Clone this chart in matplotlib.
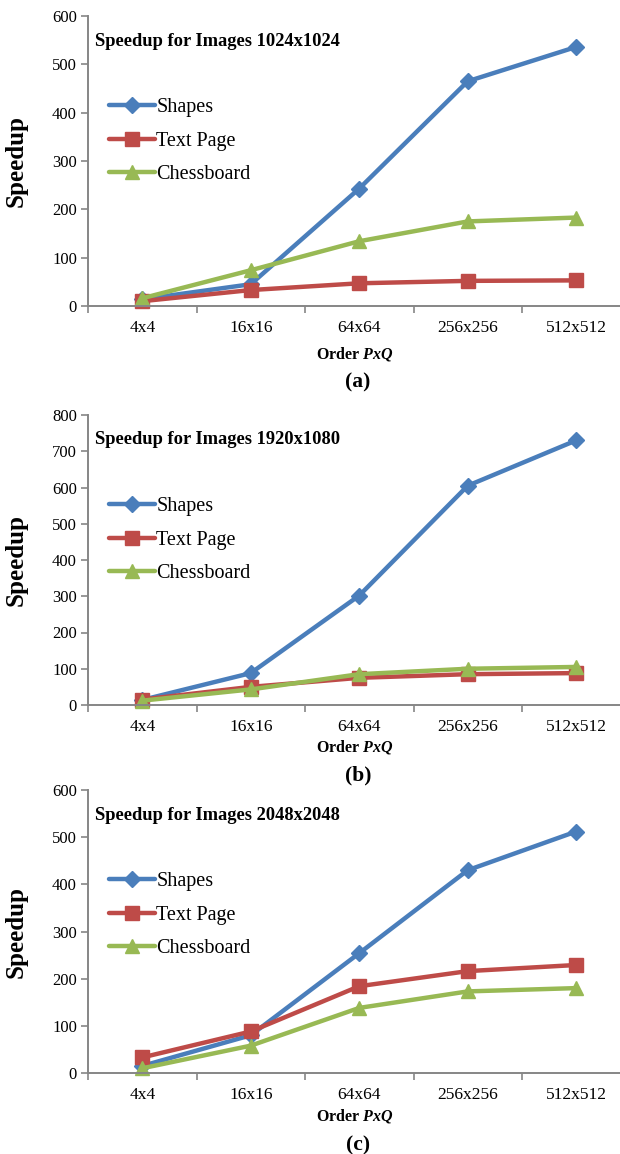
import matplotlib
matplotlib.use("Agg")
import matplotlib.pyplot as plt

plt.rcParams['font.family'] = ['Liberation Serif', 'DejaVu Serif']
plt.rcParams['mathtext.fontset'] = 'custom'
plt.rcParams['mathtext.it'] = 'Liberation Serif:italic:bold'
plt.rcParams['mathtext.rm'] = 'Liberation Serif:bold'

orders = ['4x4', '16x16', '64x64', '256x256', '512x512']
series_names = ['Shapes', 'Text Page', 'Chessboard']

# panel (a) 1024x1024
shapes_a = [14, 45, 243, 465, 536]
text_a = [10, 33, 47, 52, 53]
chess_a = [16, 74, 134, 175, 183]

# panel (b) 1920x1080
shapes_b = [14, 88, 302, 605, 730]
text_b = [15, 50, 75, 85, 88]
chess_b = [12, 43, 85, 100, 105]

# panel (c) 2048x2048
shapes_c = [15, 80, 254, 430, 512]
text_c = [33, 88, 184, 216, 229]
chess_c = [10, 58, 138, 173, 180]

titles = ['Speedup for Images 1024x1024', 'Speedup for Images 1920x1080',
          'Speedup for Images 2048x2048']
panel_tags = ['(a)', '(b)', '(c)']
ymaxes = [600, 800, 600]

colors = ['#4A7EBB', '#BE4B48', '#98B954']
markers = ['D', 's', '^']
msizes = [8, 10, 10]

W, H = 620, 1154
fig = plt.figure(figsize=(W / 100, H / 100), dpi=100)

# axes frames in pixels: (top, bottom)
frames = [(16, 306), (415, 705), (790, 1073)]
ax_left, ax_right = 88, 630.5

data = [(shapes_a, text_a, chess_a), (shapes_b, text_b, chess_b), (shapes_c, text_c, chess_c)]
xlab_y = [354, 747, 1116]
tag_y = [382, 775, 1145]

gray = '#868686'
x = list(range(len(orders)))

for i in range(3):
    top, bot = frames[i]
    aw, ah = ax_right - ax_left, bot - top
    ax = fig.add_axes([ax_left / W, 1 - bot / H, aw / W, ah / H])
    for vals, name, c, m, ms in zip(data[i], series_names, colors, markers, msizes):
        ax.plot(x, vals, color=c, lw=3.2, marker=m, ms=ms, label=name, clip_on=False,
                solid_capstyle='round', solid_joinstyle='round')
    ax.set_xlim(-0.5, 4.5)
    ax.set_ylim(0, ymaxes[i])
    ax.set_yticks(range(0, ymaxes[i] + 1, 100))
    ax.set_xticks(x)
    ax.set_xticklabels(orders)
    ax.set_xticks([k - 0.5 for k in range(6)], minor=True)
    ax.tick_params(axis='x', which='major', length=0, labelsize=12.5, pad=10)
    ax.tick_params(axis='x', which='minor', length=5, width=1.2, color=gray, direction='out')
    ax.tick_params(axis='y', length=5, width=1.2, color=gray, labelsize=12, direction='out', pad=3)
    for s in ['top', 'right']:
        ax.spines[s].set_visible(False)
    for s in ['left', 'bottom']:
        ax.spines[s].set_color(gray)
        ax.spines[s].set_linewidth(1.4)
    ax.text(7 / aw, 1 - 25 / ah, titles[i], transform=ax.transAxes,
            fontsize=13.3, fontweight='bold', va='center', ha='left')
    ax.legend(loc='upper left', bbox_to_anchor=(21 / aw, 1 - 82 / ah),
              frameon=False, fontsize=14.5, handlelength=2.3, handletextpad=0.05,
              labelspacing=0.72, borderaxespad=0, borderpad=0)
    fig.text(16 / W, 1 - (top + bot) / 2 / H, 'Speedup', rotation=90, fontsize=18,
             fontweight='bold', ha='center', va='center')
    fig.text(355 / W, 1 - xlab_y[i] / H, 'Order $PxQ$', fontsize=11.5, fontweight='bold',
             ha='center', va='center')
    fig.text(358 / W, 1 - tag_y[i] / H, panel_tags[i], fontsize=15.5, fontweight='bold',
             ha='center', va='center')

fig.savefig('out.png', dpi=100)
